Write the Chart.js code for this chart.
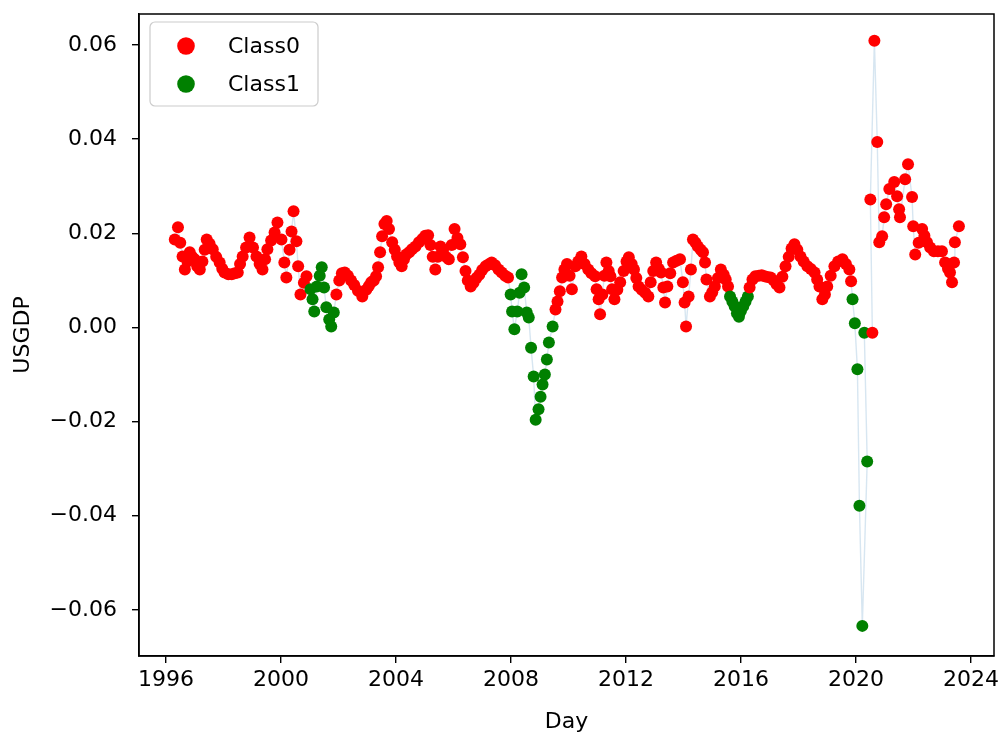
<!DOCTYPE html>
<html>
<head>
<meta charset="utf-8">
<script src="https://cdn.jsdelivr.net/npm/chart.js@4.4.1/dist/chart.umd.min.js"></script>
<style>
  body { margin: 0; background: #fff; }
</style>
</head>
<body>
<canvas id="chart" width="1000" height="733"></canvas>
<script>
// decimal year of each observation
const days = [
  1996.31, 1996.42, 1996.50, 1996.58, 1996.66, 1996.75, 1996.83, 1996.92, 1997.00, 1997.09,
  1997.18, 1997.27, 1997.35, 1997.42, 1997.52, 1997.63, 1997.75, 1997.87, 1997.96, 1998.04,
  1998.17, 1998.29, 1998.40, 1998.50, 1998.58, 1998.67, 1998.79, 1998.91, 1999.03, 1999.15,
  1999.26, 1999.36, 1999.45, 1999.53, 1999.66, 1999.78, 1999.88, 2000.02, 2000.12, 2000.19,
  2000.30, 2000.37, 2000.44, 2000.54, 2000.60, 2000.68, 2000.80, 2000.89,
  2001.03, 2001.10, 2001.16, 2001.25, 2001.35, 2001.42, 2001.50, 2001.58, 2001.68, 2001.75, 2001.84,
  2001.93, 2002.03, 2002.12, 2002.22, 2002.33, 2002.44, 2002.55, 2002.68, 2002.83, 2002.97,
  2003.06, 2003.14, 2003.23, 2003.31, 2003.38, 2003.45, 2003.52, 2003.60, 2003.68, 2003.76,
  2003.87, 2003.96, 2004.04, 2004.12, 2004.20, 2004.28, 2004.36, 2004.46, 2004.56, 2004.68,
  2004.80, 2004.92, 2005.02, 2005.12, 2005.20, 2005.28, 2005.37, 2005.46, 2005.55, 2005.64,
  2005.74, 2005.84, 2005.94, 2006.04, 2006.14, 2006.24, 2006.33, 2006.42, 2006.50, 2006.60,
  2006.70, 2006.80, 2006.90, 2007.00, 2007.12, 2007.22, 2007.33, 2007.45, 2007.57, 2007.68,
  2007.80, 2007.90,
  2007.99, 2008.04, 2008.12, 2008.22, 2008.30, 2008.37, 2008.46, 2008.55, 2008.62, 2008.70,
  2008.79, 2008.86, 2008.96, 2009.03, 2009.10, 2009.18, 2009.25, 2009.32, 2009.45,
  2009.55, 2009.62, 2009.70, 2009.78, 2009.86, 2009.95, 2010.04, 2010.12, 2010.24, 2010.34,
  2010.45, 2010.56, 2010.69, 2010.80, 2010.93, 2010.98, 2011.05, 2011.10, 2011.18, 2011.25,
  2011.32, 2011.40, 2011.46, 2011.52, 2011.60, 2011.70, 2011.80, 2011.92, 2012.02, 2012.10,
  2012.20, 2012.28, 2012.36, 2012.44, 2012.55, 2012.67, 2012.78, 2012.86, 2012.95, 2013.05,
  2013.14, 2013.22, 2013.30, 2013.36, 2013.44, 2013.54, 2013.64, 2013.76, 2013.88, 2013.98,
  2014.04, 2014.09, 2014.18, 2014.26, 2014.33, 2014.42, 2014.50, 2014.60, 2014.68, 2014.75,
  2014.80, 2014.92, 2015.00, 2015.09, 2015.20, 2015.30, 2015.40, 2015.47, 2015.55,
  2015.62, 2015.70, 2015.78, 2015.86, 2015.93, 2016.00, 2016.08, 2016.16, 2016.24,
  2016.30, 2016.40, 2016.50, 2016.62, 2016.72, 2016.82, 2016.92, 2017.03, 2017.14, 2017.24,
  2017.34, 2017.44, 2017.55, 2017.66, 2017.76, 2017.86, 2017.96, 2018.07, 2018.18, 2018.31,
  2018.43, 2018.56, 2018.65, 2018.73, 2018.83, 2018.92, 2019.00, 2019.12, 2019.25, 2019.38,
  2019.53, 2019.65, 2019.77, 2019.83,
  2019.88, 2019.96, 2020.05, 2020.12, 2020.22, 2020.39, 2020.29,
  2020.57, 2020.50, 2020.64, 2020.74, 2020.81, 2020.91, 2020.98, 2021.05, 2021.16, 2021.33,
  2021.43, 2021.50, 2021.53, 2021.71, 2021.81, 2021.95, 2021.99, 2022.06, 2022.18, 2022.30,
  2022.38, 2022.47, 2022.58, 2022.71, 2022.85, 2022.99, 2023.10, 2023.20, 2023.27, 2023.34,
  2023.41, 2023.44, 2023.58
];

const usgdp = [
  0.0187, 0.0213, 0.0180, 0.0151, 0.0123, 0.0140, 0.0160, 0.0150, 0.0145, 0.0130,
  0.0123, 0.0140, 0.0165, 0.0187, 0.0178, 0.0166, 0.0150, 0.0138, 0.0125, 0.0117,
  0.0113, 0.0113, 0.0115, 0.0117, 0.0135, 0.0151, 0.0170, 0.0191, 0.0170, 0.0151,
  0.0135, 0.0123, 0.0145, 0.0166, 0.0185, 0.0202, 0.0223, 0.0187, 0.0138, 0.0106,
  0.0165, 0.0204, 0.0247, 0.0183, 0.0130, 0.0070, 0.0095, 0.0109,
  0.0081, 0.0060, 0.0034, 0.0087, 0.0110, 0.0128, 0.0085, 0.0043, 0.0017, 0.0002, 0.0032,
  0.0070, 0.0100, 0.0115, 0.0117, 0.0110, 0.0100, 0.0090, 0.0078, 0.0066, 0.0080,
  0.0088, 0.0096, 0.0100, 0.0109, 0.0128, 0.0160, 0.0194, 0.0220, 0.0226, 0.0209,
  0.0181, 0.0165, 0.0151, 0.0138, 0.0130, 0.0145, 0.0155, 0.0160, 0.0166, 0.0172,
  0.0181, 0.0188, 0.0195, 0.0196, 0.0175, 0.0150, 0.0123, 0.0150, 0.0172, 0.0165,
  0.0150, 0.0145, 0.0175, 0.0209, 0.0190, 0.0177, 0.0149, 0.0120, 0.0100, 0.0087,
  0.0095, 0.0105, 0.0112, 0.0122, 0.0130, 0.0134, 0.0138, 0.0132, 0.0123, 0.0117,
  0.0110, 0.0106,
  0.0070, 0.0034, -0.0004, 0.0034, 0.0074, 0.0113, 0.0085, 0.0032, 0.0021, -0.0043,
  -0.0104, -0.0196, -0.0174, -0.0147, -0.0121, -0.0100, -0.0068, -0.0032, 0.0002,
  0.0038, 0.0055, 0.0077, 0.0106, 0.0123, 0.0135, 0.0110, 0.0081, 0.0130, 0.0140,
  0.0151, 0.0135, 0.0123, 0.0115, 0.0109, 0.0081, 0.0060, 0.0028, 0.0070, 0.0110,
  0.0138, 0.0120, 0.0109, 0.0081, 0.0060, 0.0080, 0.0096, 0.0120, 0.0140, 0.0149,
  0.0135, 0.0123, 0.0105, 0.0087, 0.0080, 0.0074, 0.0066, 0.0096, 0.0120, 0.0138,
  0.0125, 0.0117, 0.0085, 0.0053, 0.0087, 0.0115, 0.0138, 0.0142, 0.0145, 0.0096,
  0.0053, 0.0002, 0.0066, 0.0123, 0.0187, 0.0180, 0.0172, 0.0165, 0.0160, 0.0138,
  0.0102, 0.0066, 0.0075, 0.0087, 0.0105, 0.0123, 0.0112, 0.0102, 0.0087,
  0.0066, 0.0055, 0.0045, 0.0030, 0.0023, 0.0035, 0.0045, 0.0055, 0.0066,
  0.0085, 0.0102, 0.0109, 0.0110, 0.0111, 0.0109, 0.0107, 0.0106, 0.0100, 0.0092,
  0.0085, 0.0108, 0.0130, 0.0150, 0.0168, 0.0177, 0.0165, 0.0151, 0.0140, 0.0130,
  0.0124, 0.0117, 0.0102, 0.0087, 0.0060, 0.0070, 0.0087, 0.0110, 0.0130, 0.0140,
  0.0145, 0.0135, 0.0123, 0.0098,
  0.0060, 0.0009, -0.0089, -0.0379, -0.0634, -0.0285, -0.0011,
  -0.0011, 0.0272, 0.0609, 0.0394, 0.0181, 0.0194, 0.0234, 0.0262, 0.0294, 0.0309,
  0.0279, 0.0251, 0.0234, 0.0315, 0.0347, 0.0277, 0.0215, 0.0155, 0.0180, 0.0209,
  0.0195, 0.0181, 0.0170, 0.0162, 0.0162, 0.0162, 0.0138, 0.0125, 0.0117, 0.0096,
  0.0138, 0.0181, 0.0215
];

// 0 = Class0, 1 = Class1
const classes = [
  0, 0, 0, 0, 0, 0, 0, 0, 0, 0,
  0, 0, 0, 0, 0, 0, 0, 0, 0, 0,
  0, 0, 0, 0, 0, 0, 0, 0, 0, 0,
  0, 0, 0, 0, 0, 0, 0, 0, 0, 0,
  0, 0, 0, 0, 0, 0, 0, 0,
  1, 1, 1, 1, 1, 1, 1, 1, 1, 1, 1,
  0, 0, 0, 0, 0, 0, 0, 0, 0, 0,
  0, 0, 0, 0, 0, 0, 0, 0, 0, 0,
  0, 0, 0, 0, 0, 0, 0, 0, 0, 0,
  0, 0, 0, 0, 0, 0, 0, 0, 0, 0,
  0, 0, 0, 0, 0, 0, 0, 0, 0, 0,
  0, 0, 0, 0, 0, 0, 0, 0, 0, 0,
  0, 0,
  1, 1, 1, 1, 1, 1, 1, 1, 1, 1,
  1, 1, 1, 1, 1, 1, 1, 1, 1,
  0, 0, 0, 0, 0, 0, 0, 0, 0, 0,
  0, 0, 0, 0, 0, 0, 0, 0, 0, 0,
  0, 0, 0, 0, 0, 0, 0, 0, 0, 0,
  0, 0, 0, 0, 0, 0, 0, 0, 0, 0,
  0, 0, 0, 0, 0, 0, 0, 0, 0, 0,
  0, 0, 0, 0, 0, 0, 0, 0, 0, 0,
  0, 0, 0, 0, 0, 0, 0, 0, 0,
  1, 1, 1, 1, 1, 1, 1, 1, 1,
  0, 0, 0, 0, 0, 0, 0, 0, 0, 0,
  0, 0, 0, 0, 0, 0, 0, 0, 0, 0,
  0, 0, 0, 0, 0, 0, 0, 0, 0, 0,
  0, 0, 0, 0,
  1, 1, 1, 1, 1, 1, 1,
  0, 0, 0, 0, 0, 0, 0, 0, 0, 0,
  0, 0, 0, 0, 0, 0, 0, 0, 0, 0,
  0, 0, 0, 0, 0, 0, 0, 0, 0, 0,
  0, 0, 0
];

const classNames = ['Class0', 'Class1'];
const classColors = ['#ff0000', '#008000'];

const xTicks = [1996, 2000, 2004, 2008, 2012, 2016, 2020, 2024];
const yTicks = [-0.06, -0.04, -0.02, 0.00, 0.02, 0.04, 0.06];

const FONT = "'DejaVu Sans', sans-serif";
const FONT_SIZE = 22;

Chart.defaults.font.family = FONT;
Chart.defaults.font.size = FONT_SIZE;
Chart.defaults.color = '#000';

const points = days.map((d, i) => ({ x: d, y: usgdp[i] }));

// full box round the plot, like a matplotlib axes
const frame = {
  id: 'frame',
  afterDraw(chart) {
    const { ctx, chartArea: a } = chart;
    ctx.save();
    ctx.strokeStyle = '#000';
    ctx.lineWidth = 1.5;
    ctx.strokeRect(a.left, a.top, a.right - a.left, a.bottom - a.top);
    ctx.restore();
  }
};

// legend drawn inside the plot, upper left
const innerLegend = {
  id: 'innerLegend',
  afterDraw(chart) {
    const { ctx, chartArea: a } = chart;
    const x = a.left + 11, y = a.top + 8, w = 168, h = 84, r = 5;
    ctx.save();
    ctx.beginPath();
    ctx.roundRect(x, y, w, h, r);
    ctx.fillStyle = 'rgba(255,255,255,0.8)';
    ctx.fill();
    ctx.strokeStyle = '#cccccc';
    ctx.lineWidth = 1.2;
    ctx.stroke();
    ctx.font = FONT_SIZE + 'px ' + FONT;
    ctx.textBaseline = 'middle';
    classNames.forEach((name, i) => {
      const cy = y + 24 + i * 38;
      ctx.beginPath();
      ctx.arc(x + 36, cy, 8.8, 0, Math.PI * 2);
      ctx.fillStyle = classColors[i];
      ctx.fill();
      ctx.fillStyle = '#000';
      ctx.fillText(name, x + 78, cy + 1);
    });
    ctx.restore();
  }
};

new Chart(document.getElementById('chart'), {
  type: 'scatter',
  data: {
    datasets: [
      {
        label: 'points',
        data: points,
        order: 0,
        pointRadius: 6,
        pointBorderWidth: 0,
        pointBackgroundColor: classes.map(c => classColors[c]),
        pointBorderColor: classes.map(c => classColors[c])
      },
      {
        label: 'line',
        data: points,
        order: 1,
        showLine: true,
        pointRadius: 0,
        borderColor: 'rgba(31,119,180,0.18)',
        borderWidth: 1.4
      }
    ]
  },
  options: {
    responsive: false,
    animation: false,
    devicePixelRatio: 1,
    events: [],
    layout: { padding: { top: 14, right: 3, left: 0, bottom: 0 } },
    plugins: {
      legend: { display: false },
      tooltip: { enabled: false }
    },
    scales: {
      x: {
        type: 'linear',
        min: 1995.065,
        max: 2024.8,
        afterBuildTicks: s => { s.ticks = xTicks.map(v => ({ value: v })); },
        afterFit: s => { s.height = 77; s.paddingLeft = 0; s.paddingRight = 0; },
        ticks: {
          autoSkip: false,
          maxRotation: 0,
          padding: 4,
          color: '#000',
          callback: v => String(v)
        },
        grid: { drawOnChartArea: false, drawTicks: true, tickLength: 7, color: '#000', lineWidth: 1.4 },
        border: { display: true, color: '#000', width: 1.5 },
        title: { display: true, text: 'Day', color: '#000', padding: { top: 0, bottom: -2 } }
      },
      y: {
        type: 'linear',
        min: -0.0698,
        max: 0.0666,
        afterBuildTicks: s => { s.ticks = yTicks.map(v => ({ value: v })); },
        afterFit: s => { s.width = 139; s.paddingTop = 0; s.paddingBottom = 0; },
        ticks: {
          padding: 15,
          color: '#000',
          callback: v => v.toFixed(2).replace('-', '\u2212')
        },
        grid: { drawOnChartArea: false, drawTicks: true, tickLength: 7, color: '#000', lineWidth: 1.4 },
        border: { display: true, color: '#000', width: 1.5 },
        title: { display: true, text: 'USGDP', color: '#000', padding: { top: 10, bottom: 0 } }
      }
    }
  },
  plugins: [frame, innerLegend]
});
</script>
</body>
</html>
